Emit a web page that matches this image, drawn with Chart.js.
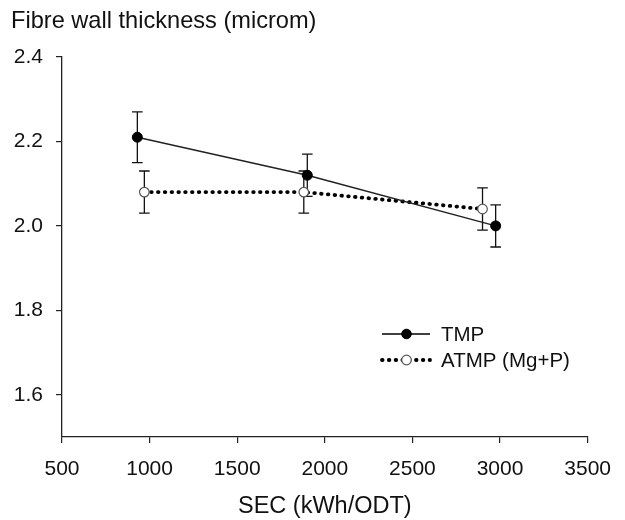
<!DOCTYPE html>
<html>
<head>
<meta charset="utf-8">
<script src="https://cdn.jsdelivr.net/npm/chart.js@4/dist/chart.umd.min.js"></script>
<style>
  html, body { margin: 0; padding: 0; background: #fff; }
  canvas { display: block; }
</style>
</head>
<body>
<canvas id="c" width="625" height="520"></canvas>
<script>
// ---- Data ----
const chartTitle = 'Fibre wall thickness (microm)';
const xAxisTitle = 'SEC (kWh/ODT)';
const seriesNames = ['TMP', 'ATMP (Mg+P)'];

const secTMP = [930, 1900, 2975];
const wallTMP = [2.21, 2.12, 2.00];
const errTMP = [0.06, 0.05, 0.05];

const secATMP = [970, 1880, 2900];
const wallATMP = [2.08, 2.08, 2.04];
const errATMP = [0.05, 0.05, 0.05];

const xTicks = [500, 1000, 1500, 2000, 2500, 3000, 3500];
const yTicks = [1.6, 1.8, 2.0, 2.2, 2.4];
const xRange = [500, 3500];
const yRange = [1.5, 2.4];

const FONT = "'Liberation Sans', Arial, sans-serif";
const INK = '#111';

function toPoints(xs, ys) { return xs.map((x, i) => ({ x: x, y: ys[i] })); }

const errors = [errTMP, errATMP];

const errorBarPlugin = {
  id: 'errorBars',
  beforeDatasetsDraw(chart) {
    const ctx = chart.ctx;
    const xs = chart.scales.x, ys = chart.scales.y;
    ctx.save();
    ctx.strokeStyle = '#111';
    ctx.lineWidth = 1.3;
    chart.data.datasets.forEach((ds, di) => {
      ds.data.forEach((p, i) => {
        const e = errors[di][i];
        const px = xs.getPixelForValue(p.x);
        const top = ys.getPixelForValue(p.y + e);
        const bot = ys.getPixelForValue(p.y - e);
        const cap = 5.3;
        ctx.beginPath();
        ctx.moveTo(px, top); ctx.lineTo(px, bot);
        ctx.moveTo(px - cap, top); ctx.lineTo(px + cap, top);
        ctx.moveTo(px - cap, bot); ctx.lineTo(px + cap, bot);
        ctx.stroke();
      });
    });
    ctx.restore();
  }
};

const textPlugin = {
  id: 'texts',
  afterDraw(chart) {
    const ctx = chart.ctx;
    ctx.save();
    // chart title (top-left)
    ctx.fillStyle = INK;
    ctx.font = '23.6px ' + FONT;
    ctx.textAlign = 'left';
    ctx.textBaseline = 'alphabetic';
    ctx.fillText(chartTitle, 11, 28);

    // legend inside plot
    const rows = [
      { y: 334, dash: [], width: 1.5, fill: '#000', stroke: '#000', lw: 1 },
      { y: 360, dash: [0.6, 6.2], width: 3.8, fill: '#fff', stroke: '#555', lw: 1.2 }
    ];
    rows.forEach((r, i) => {
      ctx.beginPath();
      ctx.setLineDash(r.dash);
      ctx.lineCap = r.dash.length ? 'round' : 'butt';
      ctx.lineWidth = r.width;
      ctx.strokeStyle = '#000';
      ctx.moveTo(382, r.y); ctx.lineTo(430, r.y);
      ctx.stroke();
      ctx.setLineDash([]);
      ctx.beginPath();
      ctx.arc(406.5, r.y, 4.8, 0, Math.PI * 2);
      ctx.fillStyle = r.fill; ctx.fill();
      ctx.lineWidth = r.lw; ctx.strokeStyle = r.stroke; ctx.stroke();
      ctx.fillStyle = INK;
      ctx.font = '20.5px ' + FONT;
      ctx.textAlign = 'left';
      ctx.textBaseline = 'middle';
      ctx.fillText(seriesNames[i], 441, r.y + 1);
    });
    ctx.restore();
  }
};

new Chart(document.getElementById('c'), {
  type: 'scatter',
  data: {
    datasets: [
      {
        label: seriesNames[0],
        data: toPoints(secTMP, wallTMP),
        showLine: true,
        borderColor: '#222',
        borderWidth: 1.5,
        pointRadius: 5,
        pointBackgroundColor: '#000',
        pointBorderColor: '#000',
        pointBorderWidth: 1
      },
      {
        label: seriesNames[1],
        data: toPoints(secATMP, wallATMP),
        showLine: true,
        borderColor: '#000',
        borderWidth: 3.8,
        borderDash: [0.6, 6.2],
        borderCapStyle: 'round',
        pointRadius: 4.8,
        pointBackgroundColor: '#fff',
        pointBorderColor: '#555',
        pointBorderWidth: 1.2
      }
    ]
  },
  options: {
    responsive: false,
    animation: false,
    devicePixelRatio: 1,
    layout: { padding: { top: 57, right: 37, left: 0, bottom: 0 } },
    plugins: {
      legend: { display: false },
      tooltip: { enabled: false },
      title: { display: false }
    },
    scales: {
      x: {
        type: 'linear',
        min: xRange[0], max: xRange[1],
        afterBuildTicks: (s) => { s.ticks = xTicks.map(v => ({ value: v })); },
        afterFit: (s) => { s.height = 83; },
        ticks: { color: INK, font: { family: FONT, size: 21 }, padding: 14, maxRotation: 0, autoSkip: false, callback: (v) => String(v) },
        grid: { display: true, drawOnChartArea: false, drawTicks: true, tickLength: 6, color: '#222', lineWidth: 1.2 },
        border: { display: true, color: '#222', width: 1.3 },
        title: { display: true, text: xAxisTitle, color: INK, font: { family: FONT, size: 23.5 }, padding: { top: 0, bottom: -1 } }
      },
      y: {
        type: 'linear',
        min: yRange[0], max: yRange[1],
        afterBuildTicks: (s) => { s.ticks = yTicks.map(v => ({ value: v })); },
        afterFit: (s) => { s.width = 62; },
        ticks: { color: INK, font: { family: FONT, size: 21 }, padding: 13, callback: (v) => Number(v).toFixed(1) },
        grid: { display: true, drawOnChartArea: false, drawTicks: true, tickLength: 6, color: '#222', lineWidth: 1.2 },
        border: { display: true, color: '#222', width: 1.3 }
      }
    }
  },
  plugins: [errorBarPlugin, textPlugin]
});
</script>
</body>
</html>
